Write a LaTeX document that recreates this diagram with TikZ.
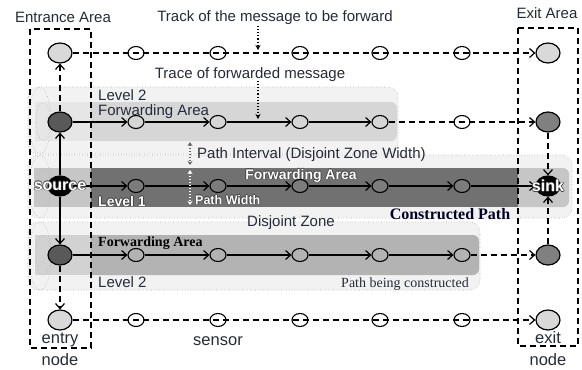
\documentclass[tikz,border=0pt]{standalone}
\usepackage{fontspec}
\setmainfont{Liberation Serif}
\setsansfont{Liberation Sans}
\usetikzlibrary{arrows.meta,shapes.geometric}
\definecolor{txt}{HTML}{262B3A}
\definecolor{bandout}{HTML}{F2F2F2}
\definecolor{bandline}{HTML}{B0B0B0}
\definecolor{upband}{HTML}{D6D6D6}
\definecolor{upleft}{HTML}{E6E6E6}
\definecolor{midband}{HTML}{717171}
\definecolor{midsen}{HTML}{7C7C7C}
\definecolor{midlight}{HTML}{C6C6C6}
\definecolor{lowband}{HTML}{B3B3B3}
\definecolor{lowleft}{HTML}{D2D2D2}
\definecolor{nodelight}{HTML}{D9D9D9}
\definecolor{nodedark}{HTML}{595959}
\definecolor{nodemid}{HTML}{808080}
\definecolor{halo}{HTML}{3A3A3A}
\newcommand\haloText[1]{\leavevmode
  \rlap{\color{halo}\kern0.7pt#1}\rlap{\color{halo}\kern-0.7pt#1}%
  \rlap{\color{halo}\raisebox{0.7pt}{#1}}\rlap{\color{halo}\raisebox{-0.7pt}{#1}}#1}
\begin{document}
\begin{tikzpicture}[x=1pt,y=-1pt,
 big/.style={ellipse,draw=black,line width=1.2pt,minimum width=24pt,minimum height=20pt,inner sep=0pt},
 sen/.style={ellipse,draw=black,line width=1.1pt,minimum width=16pt,minimum height=13pt,inner sep=0pt},
 tip/.style={-{Straight Barb[length=5pt,width=9pt,line width=1.2pt]}},
 solidc/.style={line width=1.2pt,tip},
 dashc/.style={line width=1.2pt,dash pattern=on 6pt off 4pt,tip},
 areabox/.style={draw=black,line width=1.3pt,dash pattern=on 6pt off 4pt},
 lab/.style={font=\sffamily\fontsize{15}{18}\selectfont,text=txt,inner sep=0pt},
 labbig/.style={font=\sffamily\fontsize{16.5}{20}\selectfont,text=txt,inner sep=0pt,anchor=base},
 wlab/.style={font=\sffamily\bfseries\fontsize{14}{17}\selectfont,text=white,inner sep=0pt},
 slab/.style={font=\rmfamily\fontsize{14}{17}\selectfont,text=txt,inner sep=0pt,anchor=base},
 dotarrow/.style={dotted,line width=1.1pt,-{Stealth[length=5pt,width=5pt]}},
 dotdouble/.style={dotted,line width=1.1pt,{Stealth[length=4pt,width=5pt]}-{Stealth[length=4pt,width=5pt]}},
 capline/.style={bandline,dotted,line width=0.6pt}
]
\useasboundingbox (0,0) rectangle (582,370);
\fill[white] (0,0) rectangle (582,370);
% ---- upper level-2 cylinder
\fill[bandout,rounded corners=10pt] (28,87) rectangle (398,154);
\draw[capline,rounded corners=10pt] (28,87) rectangle (398,154);
\fill[upleft] (35,102) rectangle (91,141);
\fill[upband] (91,102) [rounded corners=6pt] -- (397,102) -- (397,141) [sharp corners] -- (91,141) -- cycle;
\draw[capline] (40,120.5) ellipse [x radius=11,y radius=33];
\draw[capline] (43,121.5) ellipse [x radius=7,y radius=19];
% ---- level-1 cylinder
\fill[bandout,rounded corners=10pt] (28,155) rectangle (572,218);
\draw[capline,rounded corners=10pt] (28,155) rectangle (572,218);
\fill[midlight] (34,168) rectangle (91,207);
\fill[midband] (91,168) rectangle (518,207);
\fill[midlight] (518,168) [rounded corners=6pt] -- (569,168) -- (569,207) [sharp corners] -- (518,207) -- cycle;
\draw[capline] (40,186.5) ellipse [x radius=11,y radius=31];
\draw[capline] (43,187.5) ellipse [x radius=7,y radius=19];
% ---- lower level-2 cylinder
\fill[bandout,rounded corners=10pt] (28,222) rectangle (480,290);
\draw[capline,rounded corners=10pt] (28,222) rectangle (480,290);
\fill[lowleft] (35,235) rectangle (91,275);
\fill[lowband] (91,235) [rounded corners=6pt] -- (479,235) -- (479,275) [sharp corners] -- (91,275) -- cycle;
\draw[capline] (40,256) ellipse [x radius=11,y radius=34];
\draw[capline] (43,255) ellipse [x radius=7,y radius=20];
% ---- area boxes
\draw[areabox] (30,29) rectangle (91,348);
\draw[areabox] (518,28) rectangle (578,346);
% ---- nodes
\node[big,fill=nodelight] (e1) at (60,53) {};
\node[big,fill=nodelight] (x1) at (548,53) {};
\node[big,fill=nodedark] (u0) at (60,122) {};
\node[big,fill=nodemid] (ux) at (548,122) {};
\node[big,fill=black] (src) at (60,186) {};
\node[big,fill=black] (sink) at (548,186) {};
\node[big,fill=nodedark] (l0) at (60,255) {};
\node[big,fill=nodemid] (lx) at (548,255) {};
\node[big,fill=nodelight] (b0) at (60,320) {};
\node[big,fill=nodelight] (bx) at (548,320) {};
\foreach \i/\x in {1/136,2/218,3/300,4/380,5/462}{
  \node[sen] (t\i) at (\x,53) {};
  \node[sen,fill=midsen] (m\i) at (\x,186) {};
  \node[sen,fill=lowband] (l\i) at (\x,255) {};
  \node[sen] (b\i) at (\x,320) {};
}
\foreach \i/\x in {1/136,2/218,3/300,4/380}{
  \node[sen,fill=upband] (u\i) at (\x,122) {};
}
\node[sen] (u5) at (462,122) {};
% ---- connectors
\draw[dashc] (e1) -- (t1.center) -- (t2.center) -- (t3.center) -- (t4.center) -- (t5.center) -- (x1);
\draw[dashc] (b0) -- (b1.center) -- (b2.center) -- (b3.center) -- (b4.center) -- (b5.center) -- (bx);
\draw[solidc] (u0) -- (u1);
\draw[solidc] (u1) -- (u2);
\draw[solidc] (u2) -- (u3);
\draw[solidc] (u3) -- (u4);
\draw[dashc] (u4) -- (u5.center) -- (ux);
\draw[solidc] (src) -- (m1);
\draw[solidc] (m1) -- (m2);
\draw[solidc] (m2) -- (m3);
\draw[solidc] (m3) -- (m4);
\draw[solidc] (m4) -- (m5);
\draw[solidc] (m5) -- (sink);
\draw[solidc] (l0) -- (l1);
\draw[solidc] (l1) -- (l2);
\draw[solidc] (l2) -- (l3);
\draw[solidc] (l3) -- (l4);
\draw[solidc] (l4) -- (l5);
\draw[dashc] (l5) -- (lx);
\draw[solidc] (src) -- (u0);
\draw[solidc] (src) -- (l0);
\draw[dashc] (u0) -- (e1);
\draw[dashc] (l0) -- (b0);
\draw[dashc] (ux) -- (sink);
\draw[dashc] (lx) -- (sink);
% ---- source / sink labels
\node[font=\sffamily\bfseries\fontsize{16}{19}\selectfont,text=white,inner sep=0pt] (srct) at (src) {\haloText{source}};
\node[font=\sffamily\bfseries\fontsize{16}{19}\selectfont,text=white,inner sep=0pt] (sinkt) at (sink) {\haloText{sink}};
% ---- texts
\node[lab,anchor=base] (ent) at (63,22) {Entrance Area};
\node[lab,anchor=base] (ext) at (547,18) {Exit Area};
\node[lab,anchor=base] (trk) at (275,21) {Track of the message to be forward};
\node[lab,anchor=base] (trc) at (250,78) {Trace of forwarded message};
\coordinate (trkA) at (258,26);
\coordinate (trkB) at (258,50);
\coordinate (trcA) at (258,81);
\coordinate (trcB) at (258,119);
\draw[dotarrow] (trkA) -- (trkB);
\draw[dotarrow] (trcA) -- (trcB);
\node[lab,anchor=base west] (lv2a) at (98,100) {Level 2};
\node[lab,anchor=base west] (fwa) at (98,115) {Forwarding Area};
\node[lab,anchor=base west] (pint) at (197,158) {Path Interval (Disjoint Zone Width)};
\node[wlab,anchor=base] (fwm) at (301,179) {\haloText{Forwarding Area}};
\node[wlab,anchor=base west] (lv1) at (98,206) {\haloText{Level 1}};
\node[wlab,anchor=base west,font=\sffamily\bfseries\fontsize{12.5}{15}\selectfont] (pw) at (195,204) {\haloText{Path Width}};
\node[lab,anchor=base] (dz) at (291,226) {Disjoint Zone};
\node[slab,font=\rmfamily\bfseries\fontsize{16}{19}\selectfont,text=black!85!blue] (cp) at (450,219) {Constructed Path};
\node[slab,anchor=base west,font=\rmfamily\bfseries\fontsize{14}{17}\selectfont,text=black] (fwl) at (98,246) {Forwarding Area};
\node[lab,anchor=base west] (lv2b) at (98,287) {Level 2};
\node[slab] (pbc) at (405,287) {Path being constructed};
\coordinate (piA) at (190,142);
\coordinate (piB) at (190,165);
\coordinate (pwA) at (190,170);
\coordinate (pwB) at (190,205);
\draw[dotdouble,draw=black!60] (piA) -- (piB);
\draw[dotdouble,draw=white] (pwA) -- (pwB);
\node[labbig] (entry) at (60,343) {entry};
\node[labbig] (entn) at (60,365) {node};
\node[labbig] (sens) at (218,345) {sensor};
\node[labbig] (exitl) at (548,343) {exit};
\node[labbig] (exn) at (548,365) {node};
\end{tikzpicture}
\end{document}
